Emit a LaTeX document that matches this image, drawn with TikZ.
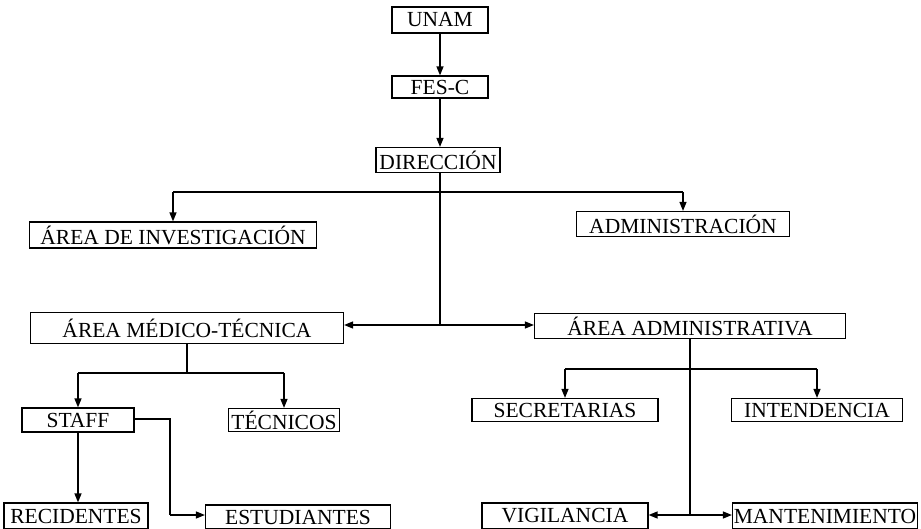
\documentclass[tikz,border=0pt]{standalone}
\usepackage{fontspec}
\setmainfont{Liberation Serif}
\usetikzlibrary{arrows.meta}
\tikzset{
  box/.style={draw, line width=1.2pt, inner sep=0pt, font=\fontsize{21.5}{24}\selectfont},
  link/.style={line width=1.3pt, -{Triangle[length=9pt,width=7pt]}},
}
\begin{document}
\begin{tikzpicture}[x=1pt,y=-1pt]
      \useasboundingbox (0,0) rectangle (921,529);
      \draw
        (440,20) node[box, minimum width=96, minimum height=26] (unam){UNAM}
        (440,87) node[box, minimum width=96, minimum height=22] (fesc){FES-C}
        (438,160) node[box, minimum width=124, minimum height=25] (direccion){DIRECCIÓN}
        (173,235) node[box, minimum width=287, minimum height=26] (investigacion){ÁREA DE INVESTIGACIÓN}
        (683,224) node[box, minimum width=213, minimum height=25] (administracion){ADMINISTRACIÓN}
        (187,328) node[box, minimum width=313, minimum height=31] (medico){ÁREA MÉDICO-TÉCNICA}
        (690,326) node[box, minimum width=311, minimum height=25] (administrativa){ÁREA ADMINISTRATIVA}
        (78,420) node[box, minimum width=112, minimum height=24] (staff){STAFF}
        (284,420) node[box, minimum width=111, minimum height=23] (tecnicos){TÉCNICOS}
        (565,410) node[box, minimum width=186, minimum height=23] (secretarias){SECRETARIAS}
        (817,410) node[box, minimum width=171, minimum height=23] (intendencia){INTENDENCIA}
        (76,516) node[box, minimum width=144, minimum height=26] (recidentes){RECIDENTES}
        (298,517) node[box, minimum width=185, minimum height=24] (estudiantes){ESTUDIANTES}
        (565,516) node[box, minimum width=166, minimum height=26] (vigilancia){VIGILANCIA}
        (825,516) node[box, minimum width=185, minimum height=26] (mantenimiento){MANTENIMIENTO};
      % junctions
      \coordinate (d1) at (440,192);
      \coordinate (d2) at (440,325);
      \coordinate (m1) at (187,373);
      \coordinate (s1) at (170,419);
      \coordinate (s2) at (170,515);
      \coordinate (a1) at (690,369);
      \coordinate (a2) at (690,515);
      \begin{scope}[line width=1.3pt]
        \draw (direccion.south -| d1) to (d2);
        \draw (investigacion |- d1) to (administracion |- d1);
        \draw (medico.south) to (m1);
        \draw (staff |- m1) to (tecnicos |- m1);
        \draw (staff.east |- s1) to (s1) to (s2);
        \draw (administrativa.south) to (a2);
        \draw (secretarias |- a1) to (intendencia |- a1);
      \end{scope}
      \begin{scope}[link]
        \draw (unam) to (fesc);
        \draw (fesc) to (fesc |- direccion.north);
        \draw (investigacion |- d1) to (investigacion);
        \draw (administracion |- d1) to (administracion);
        \draw (d2) to (medico.east |- d2);
        \draw (d2) to (administrativa.west |- d2);
        \draw (staff |- m1) to (staff);
        \draw (tecnicos |- m1) to (tecnicos);
        \draw (staff) to (recidentes.north -| staff);
        \draw (s2) to (estudiantes.west |- s2);
        \draw (secretarias |- a1) to (secretarias);
        \draw (intendencia |- a1) to (intendencia);
        \draw (a2) to (vigilancia.east |- a2);
        \draw (a2) to (mantenimiento.west |- a2);
      \end{scope}
    \end{tikzpicture}
\end{document}
